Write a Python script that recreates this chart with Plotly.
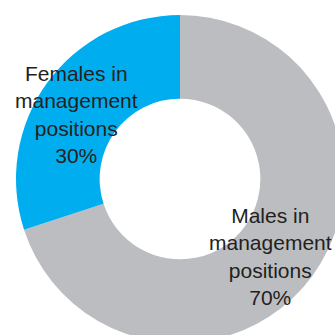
import plotly.graph_objects as go

# Management positions by gender
labels = ["Females in management positions", "Males in management positions"]
label_lines = [["Females in", "management", "positions"], ["Males in", "management", "positions"]]
shares = [30, 70]
colors = ["#00AEEF", "#BCBDC0"]

W = H = 360  # canvas is a bit larger than the viewport; the ring runs off the right/bottom edge

# Drawn clockwise from 12 o'clock with males first, so the female slice
# sits on the upper-left, ending at 12 o'clock.
fig = go.Figure(
    go.Pie(
        labels=labels[::-1],
        values=shares[::-1],
        hole=0.49,
        sort=False,
        direction="clockwise",
        rotation=0,
        marker=dict(colors=colors[::-1], line=dict(width=0)),
        textinfo="none",
        hoverinfo="label+percent",
        showlegend=False,
        domain=dict(x=[16 / W, 344 / W], y=[1 - 343 / H, 1 - 15 / H]),
    )
)

# Slice captions placed over the ring
label_pos = [(76, 115), (270, 256)]
for lines, share, (px, py) in zip(label_lines, shares, label_pos):
    fig.add_annotation(
        x=px / W,
        y=1 - py / H,
        xref="paper",
        yref="paper",
        text="<br>".join(lines + [f"{share}%"]),
        showarrow=False,
        align="center",
        xanchor="center",
        yanchor="middle",
        font=dict(family="Liberation Sans, Arial, sans-serif", size=21, color="#231F20"),
    )

fig.update_layout(
    width=W,
    height=H,
    margin=dict(l=0, r=0, t=0, b=0),
    paper_bgcolor="white",
    plot_bgcolor="white",
)

fig.write_html(
    "out.html",
    post_script="document.documentElement.style.overflow='hidden';document.body.style.overflow='hidden';document.body.style.margin='0';",
)
